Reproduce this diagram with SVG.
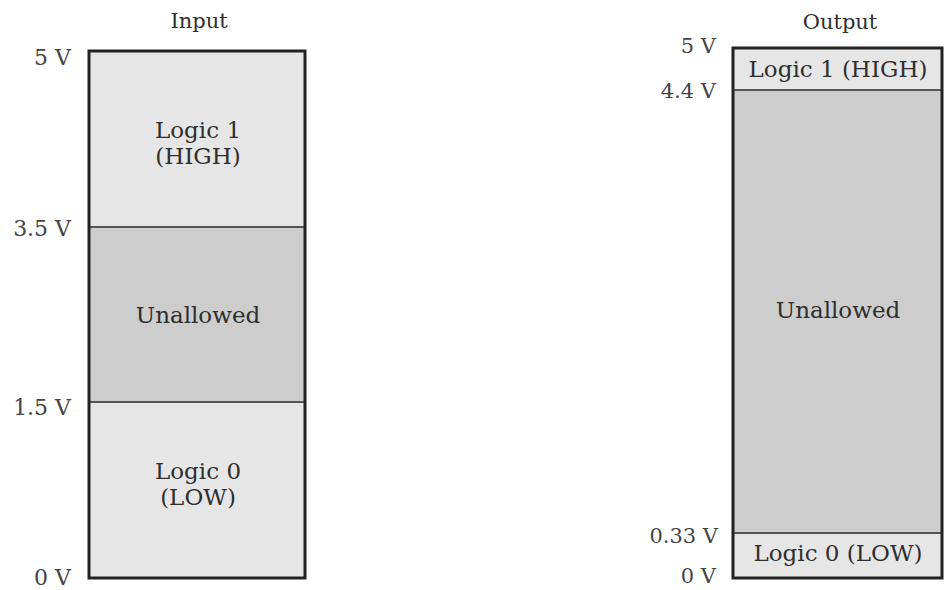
<svg xmlns="http://www.w3.org/2000/svg" width="945" height="590" viewBox="0 0 945 590">
<style>
text{font-family:"DejaVu Serif","Liberation Serif",serif;font-size:23px;fill:#2e2e2e}
.t{text-anchor:middle}
.h{font-size:21px}
.v{text-anchor:end;fill:#444;font-size:22px}
.light{fill:#e6e6e6}
.dark{fill:#cdcdcd}
.div{stroke:#555;stroke-width:2}
.frame{fill:none;stroke:#222;stroke-width:3}
</style>
<rect width="945" height="590" fill="#fff"/>
<g id="input">
<text class="t h" x="199" y="28">Input</text>
<rect class="light" x="89" y="51" width="216" height="176"/>
<rect class="dark" x="89" y="227" width="216" height="175"/>
<rect class="light" x="89" y="402" width="216" height="176"/>
<line class="div" x1="89" y1="227" x2="305" y2="227"/>
<line class="div" x1="89" y1="402" x2="305" y2="402"/>
<rect class="frame" x="89" y="51" width="216" height="527"/>
<text class="t" x="198" y="138">Logic 1</text>
<text class="t" x="198" y="164">(HIGH)</text>
<text class="t" x="198" y="323">Unallowed</text>
<text class="t" x="198" y="479">Logic 0</text>
<text class="t" x="198" y="505">(LOW)</text>
<text class="v" x="71" y="65">5 V</text>
<text class="v" x="71" y="236">3.5 V</text>
<text class="v" x="71" y="415">1.5 V</text>
<text class="v" x="71" y="585">0 V</text>
</g>
<g id="output">
<text class="t h" x="840" y="29">Output</text>
<rect class="light" x="733" y="48" width="209" height="42"/>
<rect class="dark" x="733" y="90" width="209" height="443"/>
<rect class="light" x="733" y="533" width="209" height="45"/>
<line class="div" x1="733" y1="90" x2="942" y2="90"/>
<line class="div" x1="733" y1="533" x2="942" y2="533"/>
<rect class="frame" x="733" y="48" width="209" height="530"/>
<text class="t" x="838" y="77">Logic 1 (HIGH)</text>
<text class="t" x="838" y="318">Unallowed</text>
<text class="t" x="838" y="561">Logic 0 (LOW)</text>
<text class="v" x="716" y="53" style="font-size:21px">5 V</text>
<text class="v" x="716" y="98" style="font-size:21px">4.4 V</text>
<text class="v" x="718" y="543" style="font-size:21px">0.33 V</text>
<text class="v" x="716" y="583" style="font-size:21px">0 V</text>
</g>
</svg>
